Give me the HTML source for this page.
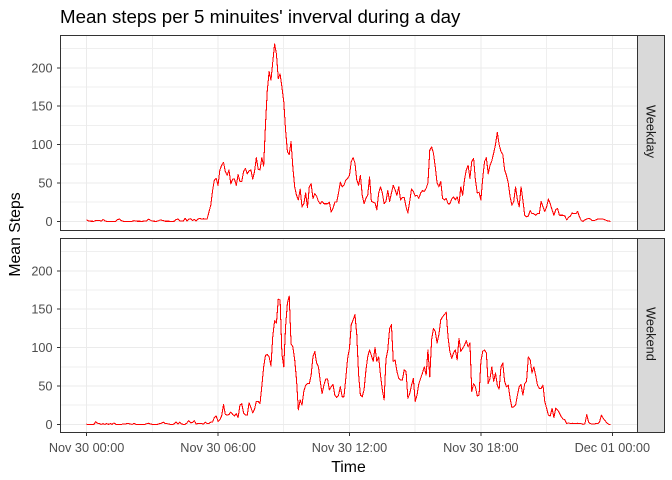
<!DOCTYPE html>
<html><head><meta charset="utf-8"><title>Mean steps</title>
<style>
html,body{margin:0;padding:0;background:#fff;width:672px;height:480px;overflow:hidden}
svg{display:block;font-family:"Liberation Sans",Arial,sans-serif}
</style></head>
<body>
<svg id="chart" width="672" height="480" viewBox="0 0 672 480" xmlns="http://www.w3.org/2000/svg" shape-rendering="crispEdges">
<rect x="0" y="0" width="672" height="480" fill="#fff"/>
<text x="60" y="23" font-size="18.7" fill="#000">Mean steps per 5 minuites' inverval during a day</text>
<text x="348.5" y="472" font-size="15.8" fill="#000" text-anchor="middle">Time</text>
<text transform="translate(20,234.5) rotate(-90)" font-size="15.8" fill="#000" text-anchor="middle">Mean Steps</text>
</svg>
<script>
const facetNames = ["Weekday", "Weekend"];
const xTickHours = [0, 6, 12, 18, 24];
const xTickLabels = ["Nov 30 00:00", "Nov 30 06:00", "Nov 30 12:00", "Nov 30 18:00", "Dec 01 00:00"];
const yTicks = [0, 50, 100, 150, 200];
const weekdaySteps = [
2.3,0.5,0.2,0.2,0.1,1.2,1.3,1.3,0.3,2.6,0.8,0,
0,0,0,0,0,2.4,3,1,0.2,0,0,0.1,
0.1,0.1,1,0.3,0.2,0.2,0.1,0.2,0.3,0.8,3,1.5,
0.3,0.2,0.1,0.3,1.6,1.6,1.2,0.2,0.2,0.2,0.1,0.1,
0.2,2.4,3,0.8,0.5,0.6,4,0.5,3,3.5,1,2.6,
0.5,3,4,3,3.5,3,3,12,21,40,54,56,
47,67,73,77,65,60,67,49,55,55,47,61,
52,52,65,69,62,66,67,55,65,83,68,67,
83,72,126,171,195,184,208,231,218,186,192,175,
156,119,91,87,104,70,45,34,28,42,19,23,
37,18,45,49,30,36,33,26,23,26,23,23,
23,25,12,17,25,25,37,51,45,47,54,56,
60,78,83,76,54,47,60,34,23,30,34,58,
26,25,24,15,37,45,37,23,26,40,26,37,
47,41,34,45,28,31,31,19,11,26,42,39,
33,34,30,37,40,39,43,50,93,97,89,71,
50,45,52,30,28,30,23,23,29,32,28,32,
23,45,34,54,67,73,56,78,82,54,37,38,
28,56,78,83,62,73,79,89,100,116,100,91,
87,67,60,50,32,21,26,45,28,19,45,28,
8,6,7,14,10,10,8,10,10,26,19,13,
19,29,23,15,8,15,17,8,8,8,7,2,
5,7,11,10,10,13,6,1,0,2,3,4,
3,1,1,2,3,3,3,3,2,1,0.5,0
];
const weekendSteps = [
0.2,0,0,0,0,3.5,1.5,1,0,1,0,1,
0,1,0,2,0,0,0,0,0.5,0.5,1,1,
0.5,0,1.5,0,0,0,0,0,0,1,1.5,0.5,
0,0,0,0.2,1,1.5,3,1,1,0.5,0,0,
0.5,3,0.5,3,0.5,0,0,2,5,2,2.5,5,
0.5,1,1,1,0.5,3,1,1,3,3,9,11,
4,6,11,26,13,12,13,16,13,11,14,9,
25,27,15,12,12,28,22,15,20,30,30,27,
50,75,90,91,88,76,115,135,132,163,162,92,
75,127,158,167,105,101,84,58,19,32,25,43,
51,53,53,64,88,95,80,75,56,40,51,59,
59,45,49,52,38,35,38,49,36,36,60,86,
99,130,136,143,117,65,38,36,45,70,88,97,
90,82,100,82,88,64,45,32,85,97,125,130,
82,84,69,60,58,58,71,69,34,40,51,60,
30,38,53,60,67,75,64,97,62,110,125,121,
106,117,136,140,143,146,114,95,86,93,97,84,
112,95,99,103,109,101,106,43,53,49,37,38,
82,95,97,93,53,60,75,56,67,51,46,75,
80,56,49,51,34,22,23,25,38,49,52,38,
53,56,88,84,67,75,64,51,47,47,51,30,
21,12,11,21,9,21,19,15,10,7,6,1,
2,1,1.5,1,1,1.5,1,1,0,1,13,3,
1,0.5,0.5,1,1,3,12,8,5,2,0.2,0
];
const seriesByFacet = [weekdaySteps, weekendSteps];

const NS = "http://www.w3.org/2000/svg";
const svg = document.getElementById("chart");
const panelLeft = 60.5, panelRight = 637.5, stripRight = 664.5;
const panelTops = [35.5, 238.5];
const panelBottoms = [230.5, 432.5];
const zeroYs = [221.4, 424.4];
const pxPerStep = 0.768;
const xScale = h => 86.6 + h * 21.905;
const yScale = (v, p) => zeroYs[p] - v * pxPerStep;

function mk(tag, attrs, parent) {
  const e = document.createElementNS(NS, tag);
  for (const k in attrs) e.setAttribute(k, attrs[k]);
  (parent || svg).appendChild(e);
  return e;
}

facetNames.forEach((facet, p) => {
  const key = facet.toLowerCase();
  const g = mk("g", {});
  
  

  // minor grid
  for (let v = 25; v <= 225; v += 50) {
    const l = mk("line", {x1: panelLeft, x2: panelRight, y1: yScale(v, p), y2: yScale(v, p), stroke: "#EFEFEF", "stroke-width": 1}, g);
    
    
  }
  for (let h = 3; h <= 21; h += 6) {
    const l = mk("line", {x1: xScale(h), x2: xScale(h), y1: panelTops[p], y2: panelBottoms[p], stroke: "#EFEFEF", "stroke-width": 1}, g);
    
    
  }
  // major grid
  yTicks.forEach(v => {
    const l = mk("line", {x1: panelLeft, x2: panelRight, y1: yScale(v, p), y2: yScale(v, p), stroke: "#EBEBEB", "stroke-width": 1}, g);
    
    
  });
  xTickHours.forEach(h => {
    const l = mk("line", {x1: xScale(h), x2: xScale(h), y1: panelTops[p], y2: panelBottoms[p], stroke: "#EBEBEB", "stroke-width": 1}, g);
    
    
  });

  // series
  const values = seriesByFacet[p];
  const d = values.map((v, i) => (i ? "L" : "M") + xScale(i / 12).toFixed(2) + " " + yScale(v, p).toFixed(2)).join("");
  const path = mk("path", {d: d, fill: "none", stroke: "#FF0000", "stroke-width": 1.05, "stroke-linejoin": "round"}, g);
  
  

  // panel border
  const border = mk("rect", {x: panelLeft, y: panelTops[p], width: panelRight - panelLeft, height: panelBottoms[p] - panelTops[p], fill: "none", stroke: "#333333", "stroke-width": 1}, g);
  
  

  // strip
  const strip = mk("rect", {x: panelRight, y: panelTops[p], width: stripRight - panelRight, height: panelBottoms[p] - panelTops[p], fill: "#D9D9D9", stroke: "#333333", "stroke-width": 1}, g);
  
  
  const cy = (panelTops[p] + panelBottoms[p]) / 2 - 1.5;
  const st = mk("text", {transform: "translate(646.5,"+ cy +") rotate(90)", "font-size": 12.8, fill: "#1A1A1A", "text-anchor": "middle"}, g);
  
  
  st.textContent = facet;

  // y ticks
  yTicks.forEach(v => {
    const y = yScale(v, p);
    const t = mk("line", {x1: 57, x2: panelLeft, y1: y, y2: y, stroke: "#333333", "stroke-width": 1}, g);
    
    
    const lab = mk("text", {x: 52.5, y: y + 4.5, "font-size": 12.7, fill: "#4D4D4D", "text-anchor": "end"}, g);
    
    
    lab.textContent = v;
  });
});

// x axis, bottom panel only
xTickHours.forEach((h, i) => {
  const x = xScale(h);
  const t = mk("line", {x1: x, x2: x, y1: panelBottoms[1], y2: panelBottoms[1] + 3.5, stroke: "#333333", "stroke-width": 1});
  
  
  const lab = mk("text", {x: x, y: 452, "font-size": 12.7, fill: "#4D4D4D", "text-anchor": "middle"});
  
  
  lab.textContent = xTickLabels[i];
});
</script>
</body></html>
